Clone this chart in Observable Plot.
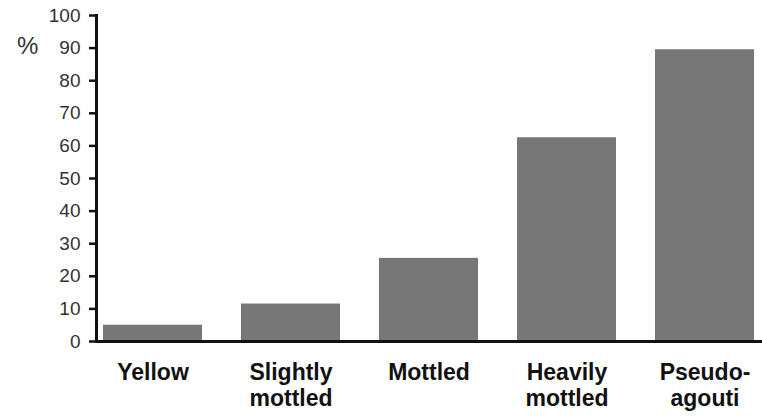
<!DOCTYPE html>
<html>
<head>
<meta charset="utf-8">
<script src="https://cdn.jsdelivr.net/npm/d3@7"></script>
<script src="https://cdn.jsdelivr.net/npm/@observablehq/plot@0.6"></script>
<style>
  html, body { margin: 0; padding: 0; background: #fff; }
  #chart { position: relative; width: 762px; height: 416px; }
  #pct { position: absolute; left: 17px; top: 32px; font: 24px "Liberation Sans", Arial, sans-serif; color: #333; }
</style>
</head>
<body>
<div id="chart"><div id="pct">%</div></div>
<script>
const categories = ["Yellow", "Slightly mottled", "Mottled", "Heavily mottled", "Pseudo-agouti"];
const tickLabels = ["Yellow", "Slightly\nmottled", "Mottled", "Heavily\nmottled", "Pseudo-\nagouti"];
const values = [5, 11.5, 25.5, 62.5, 89.5];
const yTicks = [0, 10, 20, 30, 40, 50, 60, 70, 80, 90, 100];

const data = categories.map((c, i) => ({category: c, value: values[i]}));
const labelOf = new Map(categories.map((c, i) => [c, tickLabels[i]]));

const chart = Plot.plot({
  width: 762,
  height: 416,
  marginLeft: 96,
  marginRight: 0,
  marginTop: 15,
  marginBottom: 75,
  style: {fontFamily: '"Liberation Sans", Arial, sans-serif', background: "transparent"},
  x: {domain: categories, paddingInner: 0.28, paddingOuter: 0.05, axis: null, label: null},
  y: {domain: [0, 100], axis: null, label: null},
  marks: [
    Plot.barY(data, {x: "category", y: "value", fill: "#777"}),
    Plot.axisY({ticks: yTicks, label: null, tickSize: 7, tickPadding: 9, fontSize: 19, fill: "#333", strokeWidth: 2.5, stroke: "#111"}),
    Plot.frame({anchor: "left", strokeWidth: 3, stroke: "#111"}),
    Plot.ruleY([0], {strokeWidth: 3, stroke: "#111"}),
    Plot.axisX({label: null, tickSize: 0, tickPadding: 21, fontSize: 23, fontWeight: "bold", fill: "#111", lineHeight: 1.1,
      tickFormat: d => labelOf.get(d)})
  ]
});
document.getElementById("chart").prepend(chart);
</script>
</body>
</html>
